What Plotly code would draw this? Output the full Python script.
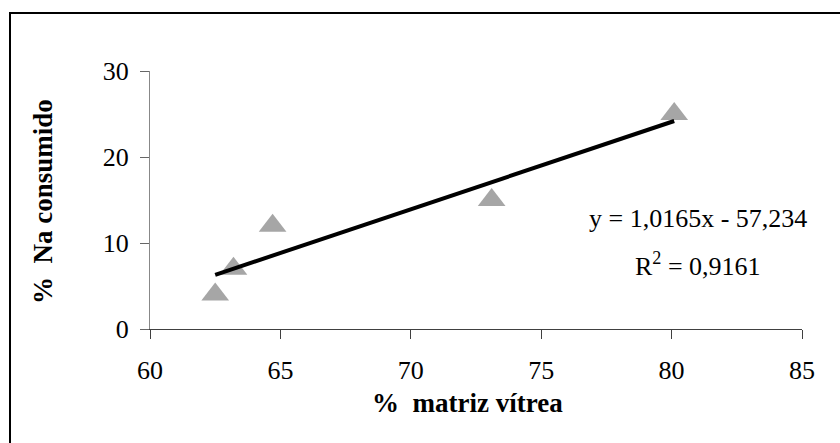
import numpy as np
import plotly.graph_objects as go

# Data
matriz_vitrea = [62.5, 63.2, 64.7, 73.1, 80.1]
na_consumido = [4.0, 7.0, 12.0, 15.0, 25.0]

# Linear trendline coefficients (as shown on the chart)
slope = 1.0165
intercept = -57.234
r2 = 0.9161

x_ticks = [60, 65, 70, 75, 80, 85]
y_ticks = [0, 10, 20, 30]

x_title = "%  matriz vítrea"
y_title = "%  Na consumido"

FONT = "Liberation Serif, Times New Roman, serif"

x_line = np.array([min(matriz_vitrea), max(matriz_vitrea)])
y_line = slope * x_line + intercept

fig = go.Figure()
fig.add_trace(go.Scatter(
    x=matriz_vitrea, y=na_consumido, mode="markers",
    marker=dict(symbol="triangle-up", size=24, color="#A6A6A6", line=dict(width=0)),
    showlegend=False, hoverinfo="x+y",
))
fig.add_trace(go.Scatter(
    x=x_line, y=y_line, mode="lines",
    line=dict(color="black", width=4),
    showlegend=False, hoverinfo="skip",
))

fig.add_annotation(
    x=81.02, y=12.8, xref="x", yref="y",
    text="y = 1,0165x - 57,234", showarrow=False,
    font=dict(family=FONT, size=26, color="black"),
    xanchor="center", yanchor="middle",
)
fig.add_annotation(
    x=81.0, y=7.5, xref="x", yref="y",
    text="R<sup>2</sup> = 0,9161", showarrow=False,
    font=dict(family=FONT, size=26, color="black"),
    xanchor="center", yanchor="middle",
)

W, H = 840, 443
L, R, T, B = 150, 38, 71, 114
pw, ph = W - L - R, H - T - B

def px_x(px):
    return (px - L) / pw

def px_y(py):
    return (H - B - py) / ph

# Axis titles placed as in the reference
fig.add_annotation(
    x=px_x(467), y=px_y(403), xref="paper", yref="paper",
    text="<b>" + x_title + "</b>", showarrow=False,
    font=dict(family=FONT, size=27, color="black"),
    xanchor="center", yanchor="middle",
)
fig.add_annotation(
    x=px_x(43), y=px_y(202), xref="paper", yref="paper",
    text="<b>" + y_title + "</b>", showarrow=False, textangle=-90,
    font=dict(family=FONT, size=27, color="black"),
    xanchor="center", yanchor="middle",
)

# Outer chart frame (extends beyond right/bottom edges as in the reference)
fig.add_shape(
    type="rect", xref="paper", yref="paper",
    x0=px_x(10), x1=px_x(850),
    y0=px_y(455), y1=px_y(13),
    line=dict(color="black", width=2), fillcolor="rgba(0,0,0,0)", layer="below",
)

fig.update_layout(
    width=W, height=H,
    margin=dict(l=L, r=R, t=T, b=B, autoexpand=False),
    paper_bgcolor="white", plot_bgcolor="white",
    font=dict(family=FONT, size=26, color="black"),
    xaxis=dict(
        range=[60, 85], tickvals=x_ticks, ticktext=[str(v) for v in x_ticks],
        showgrid=False, zeroline=False, showline=True, linecolor="#404040", linewidth=1,
        ticks="outside", ticklen=9, tickcolor="#404040", tickwidth=1,
        ticklabelstandoff=9,
        tickfont=dict(family=FONT, size=26, color="black"),
        automargin=False,
    ),
    yaxis=dict(
        range=[0, 30], tickvals=y_ticks, ticktext=[str(v) for v in y_ticks],
        showgrid=False, zeroline=False, showline=True, linecolor="#888888", linewidth=1,
        ticks="outside", ticklen=9, tickcolor="#666666", tickwidth=1,
        ticklabelstandoff=6,
        tickfont=dict(family=FONT, size=26, color="black"),
        automargin=False,
    ),
)

fig.write_html("out.html")
